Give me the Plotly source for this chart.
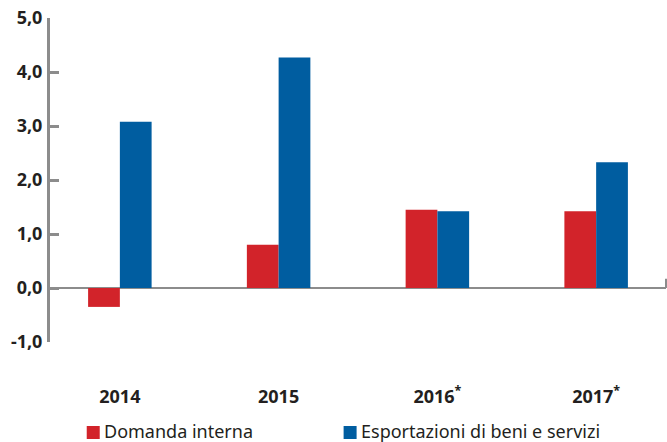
import plotly.graph_objects as go

categories = ["2014", "2015", "2016*", "2017*"]
tick_labels = ["2014", "2015", "2016<sup>*</sup>", "2017<sup>*</sup>"]
domanda_interna = [-0.35, 0.8, 1.45, 1.42]
esportazioni = [3.08, 4.27, 1.42, 2.33]
y_ticks = [-1, 0, 1, 2, 3, 4, 5]
y_tick_labels = ["-1,0", "0,0", "1,0", "2,0", "3,0", "4,0", "5,0"]
series_names = ["Domanda interna", "Esportazioni di beni e servizi"]
colors = ["#d2232a", "#005da0"]

FONT = "Noto Sans"
TXT = "#231f20"
AX = "#8c8c8c"

fig = go.Figure()
fig.add_trace(go.Bar(x=categories, y=domanda_interna, name=series_names[0],
                     marker=dict(color=colors[0], line=dict(width=0))))
fig.add_trace(go.Bar(x=categories, y=esportazioni, name=series_names[1],
                     marker=dict(color=colors[1], line=dict(width=0))))

fig.update_layout(
    width=667, height=442,
    margin=dict(l=50, r=1, t=18, b=100),
    paper_bgcolor="white", plot_bgcolor="white",
    barmode="group", bargap=0.6, bargroupgap=0,
    showlegend=False,
    font=dict(family=FONT, color=TXT, size=17),
)
fig.update_xaxes(
    type="category", range=[-0.44, 3.44], automargin=False,
    tickvals=categories, ticktext=tick_labels,
    showline=False, showgrid=False, ticks="",
    tickfont=dict(family=FONT, weight="bold", size=18, color=TXT),
    ticklabelstandoff=42,
)
fig.update_yaxes(
    range=[-1, 5], tickvals=y_ticks, ticktext=y_tick_labels, automargin=False,
    showgrid=False, showline=True, linecolor=AX, linewidth=3,
    ticks="inside", ticklen=9, tickwidth=3, tickcolor=AX,
    zeroline=True, zerolinecolor=AX, zerolinewidth=2,
    tickfont=dict(family=FONT, weight="bold", size=18, color=TXT),
    ticklabelstandoff=1,
)
# small end tick on the zero line at the right edge
fig.add_shape(type="line", xref="paper", yref="y", x0=1, x1=1, y0=0, y1=0.17,
              line=dict(color=AX, width=2))

# legend drawn as swatches + text
leg_x = [0.058, 0.475]
leg_y = -0.2747
for i, name in enumerate(series_names):
    fig.add_shape(type="rect", xref="paper", yref="paper",
                  xsizemode="pixel", ysizemode="pixel",
                  xanchor=leg_x[i], yanchor=leg_y,
                  x0=1, x1=14, y0=-8, y1=5,
                  fillcolor=colors[i], line=dict(width=0))
    fig.add_annotation(xref="paper", yref="paper", x=leg_x[i], y=leg_y,
                       xshift=17, text=name, showarrow=False,
                       xanchor="left", yanchor="middle",
                       borderpad=0,
                       font=dict(family=FONT, size=18, color=TXT))

fig.write_html("out.html", config={"displayModeBar": False},
               post_script="document.body.style.margin='0';document.body.style.overflow='hidden';")
